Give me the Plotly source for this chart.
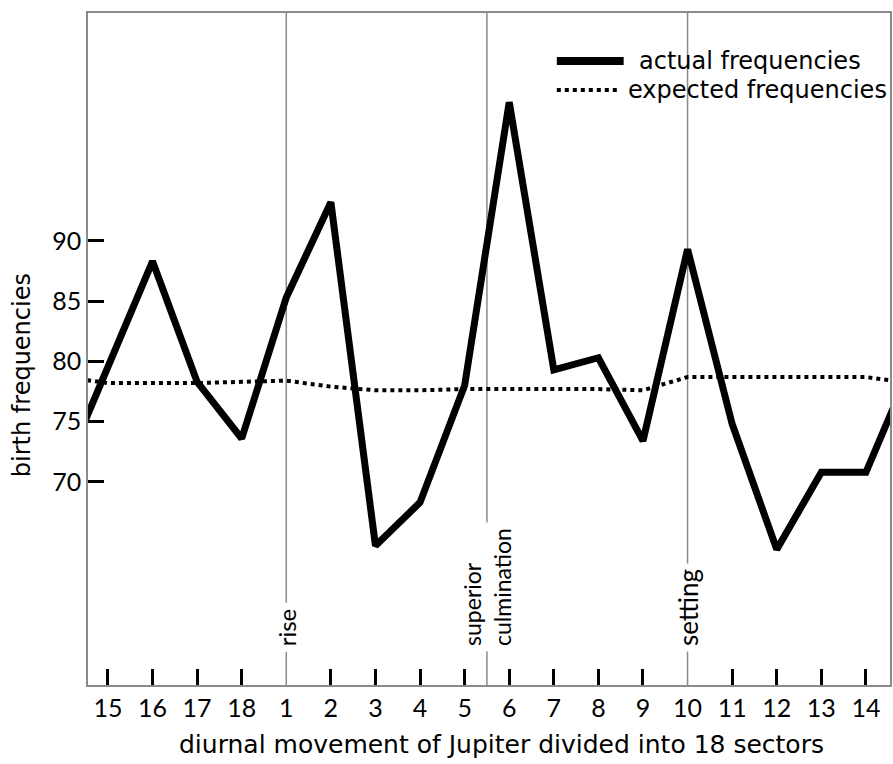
import plotly.graph_objects as go

# ---------------- data ----------------
sectors = ["15", "16", "17", "18", "1", "2", "3", "4", "5", "6", "7", "8", "9",
           "10", "11", "12", "13", "14"]
actual = [79.5, 88.3, 78.3, 73.6, 85.3, 93.2, 64.7, 68.3, 78.0, 101.5, 79.3, 80.3,
          73.4, 89.3, 74.8, 64.4, 70.8, 70.8]
expected = [78.2, 78.2, 78.2, 78.3, 78.4, 77.9, 77.6, 77.6, 77.7, 77.7, 77.7, 77.7,
            77.6, 78.7, 78.7, 78.7, 78.7, 78.7]
y_ticks = [70, 75, 80, 85, 90]
events = [("rise", "1", 0.0, 24), ("superior<br>culmination", "5", 0.5, 23),
          ("setting", "10", 0.0, 26)]

# circular chart: wrap one point on each side (clipped by the axis range)
n = len(sectors)
xs = list(range(-1, n + 1))
act_w = [actual[-1]] + actual + [actual[0]]
exp_w = [expected[-1]] + expected + [expected[0]]

W, H = 893, 764
L, R, T, B = 88, 892, 13, 685
FONT = "Lato"
TFONT = "DejaVu Sans"


def px(x):
    return (x - L) / (R - L)


def py(y):
    return (B - y) / (B - T)


fig = go.Figure()
fig.add_trace(go.Scatter(x=xs, y=exp_w, mode="lines",
                         line=dict(color="black", width=4, dash="dot"),
                         showlegend=False, hoverinfo="skip"))
fig.add_trace(go.Scatter(x=xs, y=act_w, mode="lines",
                         line=dict(color="black", width=7),
                         showlegend=False, hoverinfo="skip"))
# invisible trace for the tick-mark overlay axis
fig.add_trace(go.Scatter(x=[0], y=[actual[0]], xaxis="x2", mode="markers",
                         marker=dict(opacity=0), showlegend=False, hoverinfo="skip"))

shapes = []
annotations = []
for label, sec, off, fs in events:
    xi = sectors.index(sec) + off
    shapes.append(dict(type="line", xref="x", yref="paper", x0=xi, x1=xi, y0=0, y1=1,
                       line=dict(color="#8a8a8a", width=1.5), layer="below"))
    annotations.append(dict(text=label, x=xi, xref="x", y=py(652), yref="paper",
                            textangle=-90, showarrow=False, xanchor="center",
                            yanchor="bottom", align="left", bgcolor="white",
                            borderpad=5,
                            font=dict(family=FONT, size=fs, color="black")))

# legend (drawn manually)
shapes.append(dict(type="line", xref="paper", yref="paper", x0=px(558), x1=px(625),
                   y0=py(61), y1=py(61), line=dict(color="black", width=8)))
shapes.append(dict(type="line", xref="paper", yref="paper", x0=px(558), x1=px(622),
                   y0=py(90), y1=py(90), line=dict(color="black", width=4, dash="dot")))
annotations.append(dict(text="actual frequencies", x=px(638), y=py(61), xref="paper",
                        yref="paper", xanchor="left", yanchor="middle", showarrow=False,
                        font=dict(family=TFONT, size=24, color="black")))
annotations.append(dict(text="expected frequencies", x=px(627), y=py(90), xref="paper",
                        yref="paper", xanchor="left", yanchor="middle", showarrow=False,
                        font=dict(family=TFONT, size=24, color="black")))
# axis titles
annotations.append(dict(text="diurnal movement of Jupiter divided into 18 sectors",
                        x=px(503), y=py(745), xref="paper", yref="paper",
                        xanchor="center", yanchor="middle", showarrow=False,
                        font=dict(family=TFONT, size=25, color="black")))
annotations.append(dict(text="birth frequencies", x=px(22), y=py(375), xref="paper",
                        yref="paper", xanchor="center", yanchor="middle",
                        textangle=-90, showarrow=False,
                        font=dict(family=TFONT, size=24, color="black")))

tick_idx = [i for i, s in enumerate(sectors) if s not in ("1", "10")]

fig.update_layout(
    width=W, height=H,
    margin=dict(l=L, r=W - R, t=T, b=H - B),
    paper_bgcolor="white", plot_bgcolor="white",
    showlegend=False,
    shapes=shapes, annotations=annotations,
    xaxis=dict(range=[-0.447, 17.54], tickmode="array",
               tickvals=list(range(n)), ticktext=sectors, ticks="",
               showgrid=False, zeroline=False, showline=True, mirror=True,
               linecolor="#8a8a8a", linewidth=1.5,
               tickfont=dict(family=FONT, size=25, color="black")),
    xaxis2=dict(overlaying="x", matches="x", tickmode="array", tickvals=tick_idx,
                ticks="inside", ticklen=16, tickwidth=3, tickcolor="black",
                showticklabels=False, showgrid=False, zeroline=False, showline=False,
                side="bottom"),
    yaxis=dict(range=[53.15, 108.9], tickmode="array", tickvals=y_ticks,
               ticks="inside", ticklen=16, tickwidth=3, tickcolor="black",
               showgrid=False, zeroline=False, showline=True, mirror=True,
               linecolor="#8a8a8a", linewidth=1.5,
               tickfont=dict(family=FONT, size=25, color="black")),
)

fig.write_html("out.html")
